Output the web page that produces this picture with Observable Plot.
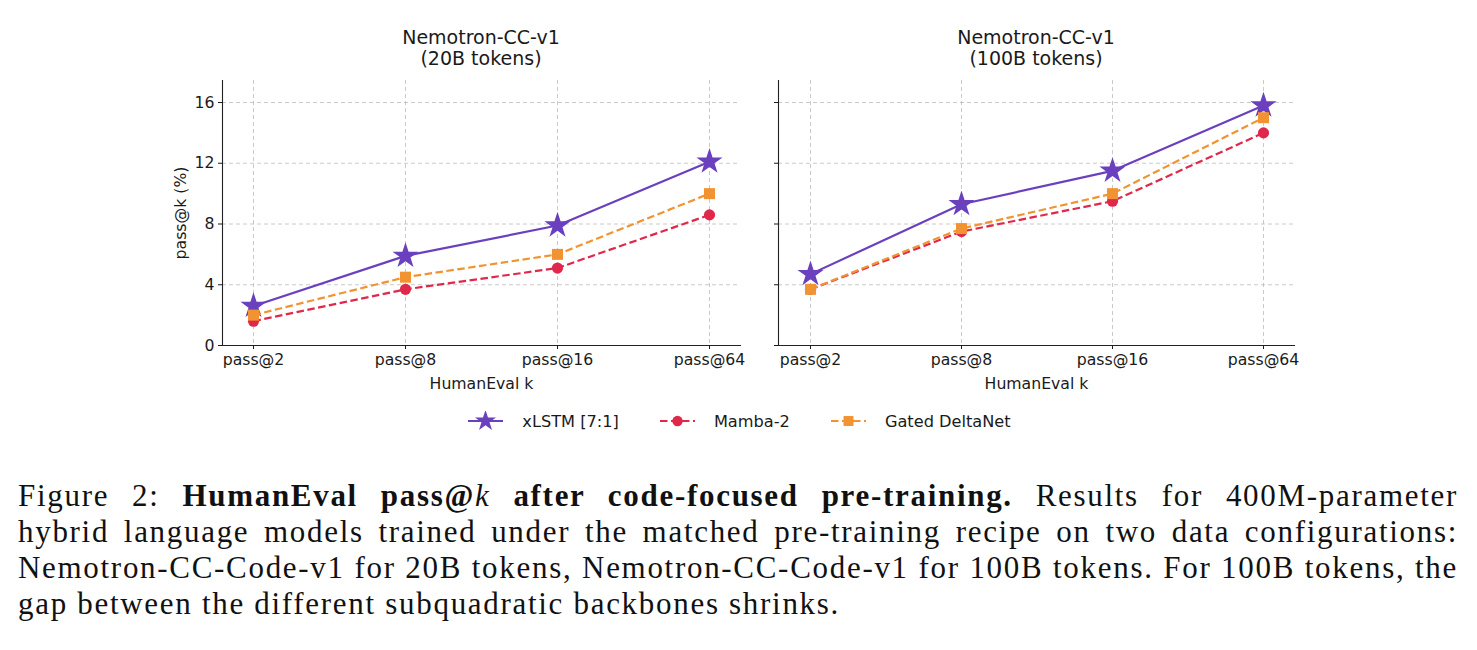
<!DOCTYPE html>
<html>
<head>
<meta charset="utf-8">
<script src="https://cdn.jsdelivr.net/npm/d3@7"></script>
<script src="https://cdn.jsdelivr.net/npm/@observablehq/plot@0.6"></script>
<style>
  html, body { margin: 0; padding: 0; background: #fff; }
  #fig { position: relative; width: 1477px; height: 650px; overflow: hidden; font-family: "DejaVu Sans", sans-serif; color: #1a1a1a; }
  .panel { position: absolute; }
  .title { position: absolute; width: 400px; text-align: center; font-size: 19px; line-height: 21px; color: #1a1a1a; }
  #legend { position: absolute; left: 0; width: 1477px; top: 411px; display: flex; justify-content: center; align-items: center; font-size: 16.2px; padding-left: 2px; box-sizing: border-box; }
  .item { display: flex; align-items: center; margin: 0 20.5px; }
  .item svg { margin-right: 19px; }
  #caption { position: absolute; left: 18px; top: 478px; width: 1440px; font-family: "Liberation Serif", serif; font-size: 31px; line-height: 36px; color: #111; letter-spacing: 1.7px; }
  #caption div { text-align: justify; text-align-last: justify; white-space: nowrap; }
  #caption div.last { text-align-last: left; }
</style>
</head>
<body>
<div id="fig"></div>
<script>
// pass@k categories on the x axis
const kLabels = ["pass@2", "pass@8", "pass@16", "pass@64"];
const yTicks = [0, 4, 8, 12, 16];

// model series
const models = ["xLSTM [7:1]", "Mamba-2", "Gated DeltaNet"];
const modelColors = ["#6a40bf", "#e0284b", "#f29331"];
const modelSymbols = ["star", "circle", "square"];
const modelDash = [null, "7.5,3.5", "7.5,3.5"];
const modelRadius = [8.2, 5.6, 6.2];
const legendRadius = [6.6, 5.2, 5.6];

// HumanEval pass@k (%) — Nemotron-CC-v1, 20B tokens
const xlstm20 = [2.6, 5.9, 7.9, 12.1];
const mamba20 = [1.6, 3.7, 5.1, 8.6];
const gdn20 = [2.0, 4.5, 6.0, 10.0];

// HumanEval pass@k (%) — Nemotron-CC-v1, 100B tokens
const xlstm100 = [4.7, 9.3, 11.5, 15.8];
const mamba100 = [3.7, 7.5, 9.5, 14.0];
const gdn100 = [3.7, 7.7, 10.0, 15.0];

const panelTitles = [["Nemotron-CC-v1", "(20B tokens)"], ["Nemotron-CC-v1", "(100B tokens)"]];

function toRows(seriesList) {
  const rows = [];
  seriesList.forEach((vals, i) => kLabels.forEach((k, j) => rows.push({ model: models[i], k, v: vals[j] })));
  return rows;
}

function panel(seriesList, { first, left, width, mLeft, mRight }) {
  const rows = toRows(seriesList);
  const seriesMarks = [];
  models.forEach((m, i) => {
    const d = rows.filter(r => r.model === m);
    seriesMarks.push(Plot.line(d, {
      x: "k", y: "v", stroke: modelColors[i], strokeWidth: 2.2,
      strokeDasharray: modelDash[i], strokeLinecap: "butt"
    }));
    seriesMarks.push(Plot.dot(d, {
      x: "k", y: "v", symbol: () => modelSymbols[i], fill: modelColors[i],
      stroke: "none", r: modelRadius[i]
    }));
  });
  const chart = Plot.plot({
    width, height: 330,
    marginLeft: mLeft, marginRight: mRight, marginTop: 5, marginBottom: 60,
    style: { fontFamily: "DejaVu Sans", fontSize: "15.7px", color: "#1a1a1a", background: "transparent", overflow: "visible" },
    x: { type: "point", domain: kLabels, padding: 0.2 },
    y: { domain: [0, 17.45] },
    symbol: { domain: ["star", "circle", "square"], range: ["star", "circle", "square"] },
    marks: [
      Plot.gridX(kLabels, { stroke: "#b5b5b5", strokeOpacity: 0.8, strokeDasharray: "4,3", strokeWidth: 0.9 }),
      Plot.gridY(yTicks, { stroke: "#b5b5b5", strokeOpacity: 0.8, strokeDasharray: "4,3", strokeWidth: 0.9 }),
      Plot.axisX({ tickSize: 4, tickPadding: 4, label: "HumanEval k", labelAnchor: "center", labelArrow: "none", labelOffset: 43 }),
      first
        ? Plot.axisY(yTicks, { tickSize: 4, tickPadding: 4, label: "pass@k (%)", labelAnchor: "center", labelArrow: "none", labelOffset: 48 })
        : Plot.axisY(yTicks, { tickSize: 4, tickFormat: () => "", label: null }),
      Plot.frame({ anchor: "left", stroke: "#222", strokeWidth: 1.1 }),
      Plot.frame({ anchor: "bottom", stroke: "#222", strokeWidth: 1.1 }),
      ...seriesMarks
    ]
  });
  chart.classList.add("panel");
  chart.style.left = left + "px";
  chart.style.top = "75px";
  return chart;
}

const fig = document.getElementById("fig");
fig.appendChild(panel([xlstm20, mamba20, gdn20], { first: true, left: 150, width: 600, mLeft: 72, mRight: 10 }));
fig.appendChild(panel([xlstm100, mamba100, gdn100], { first: false, left: 760, width: 550, mLeft: 18, mRight: 16 }));

// panel titles
[481, 1036].forEach((cx, i) => {
  const t = document.createElement("div");
  t.className = "title";
  t.style.left = (cx - 200) + "px";
  t.style.top = "27px";
  t.innerHTML = panelTitles[i].join("<br>");
  fig.appendChild(t);
});

// shared legend
const legend = d3.select(fig).append("div").attr("id", "legend");
models.forEach((m, i) => {
  const item = legend.append("div").attr("class", "item");
  const svg = item.append("svg").attr("width", 35).attr("height", 20);
  svg.append("line").attr("x1", 0).attr("x2", 35).attr("y1", 10).attr("y2", 10)
    .attr("stroke", modelColors[i]).attr("stroke-width", 2.2)
    .attr("stroke-dasharray", modelDash[i]);
  const sym = d3.symbol().type(i === 0 ? d3.symbolStar : i === 1 ? d3.symbolCircle : d3.symbolSquare)
    .size(Math.PI * legendRadius[i] * legendRadius[i]);
  svg.append("path").attr("d", sym()).attr("transform", "translate(17.5,10)").attr("fill", modelColors[i]);
  item.append("span").text(m);
});

// figure caption
const cap = d3.select(fig).append("div").attr("id", "caption");
cap.append("div").html('Figure 2: <b>HumanEval pass@<i style="font-weight:normal">k</i> after code-focused pre-training.</b> Results for 400M-parameter');
cap.append("div").text("hybrid language models trained under the matched pre-training recipe on two data configurations:");
cap.append("div").text("Nemotron-CC-Code-v1 for 20B tokens, Nemotron-CC-Code-v1 for 100B tokens. For 100B tokens, the");
cap.append("div").attr("class", "last").text("gap between the different subquadratic backbones shrinks.");
</script>
</body>
</html>
